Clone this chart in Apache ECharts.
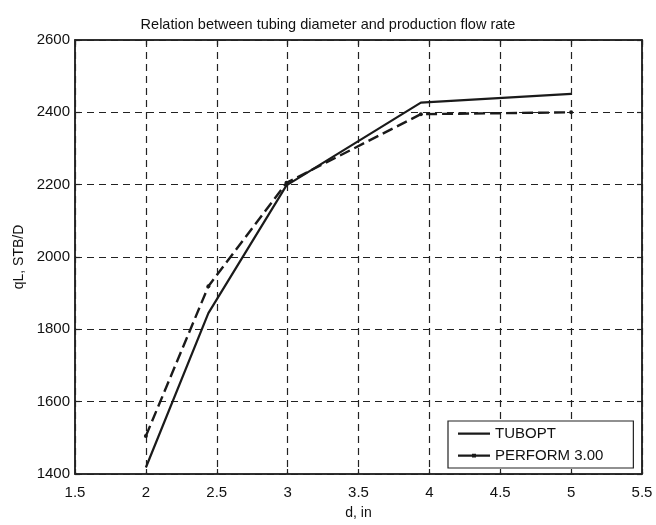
<!DOCTYPE html>
<html>
<head>
<meta charset="utf-8">
<script src="https://cdn.jsdelivr.net/npm/echarts@6/dist/echarts.min.js"></script>
<style>html,body{margin:0;padding:0;background:#fff}#c{width:656px;height:525px}</style>
</head>
<body>
<div id="c"></div>
<script>
var diameters = [2.0, 2.441, 2.992, 3.94, 5.0];
var tuboptRates = [1418, 1845, 2198, 2427, 2451];
var performRates = [1505, 1919, 2205, 2395, 2400];
var seriesNames = ['TUBOPT', 'PERFORM 3.00'];
var titleText = 'Relation between tubing diameter and production flow rate';
var xName = 'd, in';
var yName = 'qL, STB/D';

function pairs(xs, ys) { return xs.map(function (x, i) { return [x, ys[i]]; }); }

var font = 'Liberation Sans, Arial, sans-serif';
var ink = '#1a1a1a';
var chart = echarts.init(document.getElementById('c'), null, { renderer: 'canvas' });
var gridLine = { show: true, lineStyle: { color: '#222', width: 1.2, type: [7, 5] } };
var axisLine = { show: true, lineStyle: { color: '#222', width: 1.5 } };
var tickIn = { show: true, inside: true, length: 5, lineStyle: { color: '#222', width: 1.2 } };
var bboxCorners = 'M0,0L0.01,0L0,0.01ZM32,10L31.99,10L32,9.99Z';
var iconSolid = 'path://' + bboxCorners + 'M0,4L32,4L32,6.2L0,6.2Z';
var iconDot = 'path://' + bboxCorners + 'M0,4L32,4L32,6.2L0,6.2ZM14,3.2L18,3.2L18,7L14,7Z';

chart.setOption({
  animation: false,
  backgroundColor: '#fff',
  title: {
    text: titleText, left: 'center', top: 12,
    textStyle: { fontFamily: font, fontSize: 14.5, fontWeight: 'normal', color: '#111' }
  },
  grid: { left: 75, right: 14, top: 40, bottom: 45, show: true, borderColor: '#222', borderWidth: 1.5 },
  legend: {
    data: [{ name: seriesNames[0], icon: iconSolid }, { name: seriesNames[1], icon: iconDot }],
    orient: 'vertical', left: 448, top: 421,
    itemWidth: 32, itemHeight: 10, itemGap: 7,
    padding: [5, 30, 5, 10],
    borderColor: '#222', borderWidth: 1.2, backgroundColor: '#fff',
    textStyle: { fontFamily: font, fontSize: 15, color: '#111' }
  },
  xAxis: [{
    type: 'value', min: 1.5, max: 5.5, interval: 0.5,
    name: xName, nameLocation: 'middle', nameGap: 32,
    nameTextStyle: { fontFamily: font, fontSize: 14, color: '#111' },
    axisLine: axisLine, axisTick: tickIn, splitLine: gridLine,
    axisLabel: { fontFamily: font, fontSize: 15, color: '#111', margin: 11 }
  }, {
    type: 'value', position: 'top', min: 1.5, max: 5.5, interval: 0.5,
    axisLine: axisLine, axisTick: tickIn, splitLine: { show: false }, axisLabel: { show: false }
  }],
  yAxis: [{
    type: 'value', min: 1400, max: 2600, interval: 200,
    name: yName, nameLocation: 'middle', nameGap: 46,
    nameTextStyle: { fontFamily: font, fontSize: 14, color: '#111' },
    axisLine: axisLine, axisTick: tickIn, splitLine: gridLine,
    axisLabel: { fontFamily: font, fontSize: 15, color: '#111', margin: 5, formatter: function (v) { return String(v); } }
  }, {
    type: 'value', position: 'right', min: 1400, max: 2600, interval: 200,
    axisLine: axisLine, axisTick: tickIn, splitLine: { show: false }, axisLabel: { show: false }
  }],
  series: [{
    name: seriesNames[0], type: 'line', data: pairs(diameters, tuboptRates),
    symbol: 'none', lineStyle: { color: ink, width: 2.2 }, itemStyle: { color: ink }
  }, {
    name: seriesNames[1], type: 'line', data: pairs(diameters, performRates),
    symbol: 'circle', symbolSize: 4,
    lineStyle: { color: ink, width: 2.4, type: [11, 5] }, itemStyle: { color: ink }
  }]
});
</script>
</body>
</html>
